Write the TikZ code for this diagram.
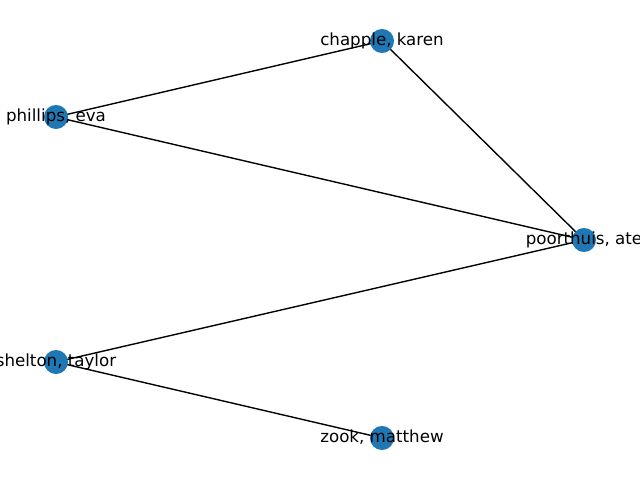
\documentclass[tikz,border=0pt]{standalone}
\usepackage{fontspec}
\setmainfont{DejaVu Sans}
\definecolor{nxblue}{HTML}{1F77B4}

\begin{document}
\begin{tikzpicture}[x=0.72bp,y=-0.72bp,
  dot/.style={fill=nxblue, circle, inner sep=0pt, minimum size=17.3bp},
  edge/.style={draw=black, line width=1bp},
  lbl/.style={font=\fontsize{12bp}{14bp}\selectfont, inner sep=0pt, text height=8.5bp, text depth=2.5bp}]
\useasboundingbox (0,0) rectangle (640,480);
\clip (0,0) rectangle (640,480);

% node positions
\coordinate (chapple) at (382,41);
\coordinate (phillips) at (56,117);
\coordinate (poorthuis) at (584,240);
\coordinate (shelton) at (56,362);
\coordinate (zook) at (382,438);

% edges
\draw[edge] (phillips) -- (chapple);
\draw[edge] (chapple) -- (poorthuis);
\draw[edge] (phillips) -- (poorthuis);
\draw[edge] (shelton) -- (poorthuis);
\draw[edge] (shelton) -- (zook);

% dots
\foreach \n in {chapple,phillips,poorthuis,shelton,zook}
  \node[dot] (\n-dot) at (\n) {};

% labels
\node[lbl] (chapple-lbl) at (chapple) {chapple, karen};
\node[lbl] (phillips-lbl) at (phillips) {phillips, eva};
\node[lbl] (poorthuis-lbl) at (poorthuis) {poorthuis, ate};
\node[lbl] (shelton-lbl) at (shelton) {shelton, taylor};
\node[lbl] (zook-lbl) at (zook) {zook, matthew};
\end{tikzpicture}
\end{document}
